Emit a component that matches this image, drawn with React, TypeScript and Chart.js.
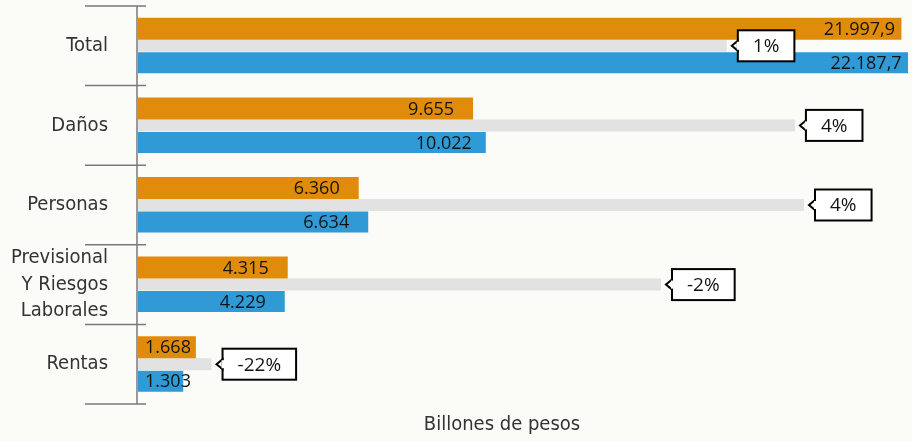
import { useEffect, useRef } from "react";
import { Chart, registerables } from "chart.js";

Chart.register(...registerables);

const categories = ["Total", "Daños", "Personas", "Previsional Y Riesgos Laborales", "Rentas"];
const categoryLines = [["Total"], ["Daños"], ["Personas"], ["Previsional", "Y Riesgos", "Laborales"], ["Rentas"]];
const prevYear = [21997.9, 9655, 6360, 4315, 1668];
const currYear = [22187.7, 10022, 6634, 4229, 1303];
const growth = [0.9, 3.9, 4.3, -2.0, -21.8];
const prevLabels = ["21.997,9", "9.655", "6.360", "4.315", "1.668"];
const currLabels = ["22.187,7", "10.022", "6.634", "4.229", "1.303"];
const growthLabels = ["1%", "4%", "4%", "-2%", "-22%"];
const axisTitle = "Billones de pesos";

const X_MAX = 22245;
const X2_MIN = -25.04;
const X2_MAX = 8.97;

const ORANGE = "#E08C0A";
const BLUE = "#2F9AD6";
const GRAY = "#E2E2E2";
const BG = "#FBFBF7";
const CAT_FONT = '20px "DejaVu Sans Condensed"';
const VAL_FONT = '18px "Open Sans"';
const BOX_FONT = '19px "Open Sans"';

const decorPlugin = {
  id: "decor",
  beforeDraw(chart: any) {
    const { ctx, width, height } = chart;
    ctx.save();
    ctx.fillStyle = BG;
    ctx.fillRect(0, 0, width, height);
    ctx.restore();
  },
  afterDatasetsDraw(chart: any) {
    const { ctx, chartArea } = chart;
    const y = chart.scales.y;
    const x2 = chart.scales.x2;
    const p0 = y.getPixelForValue(0);
    const band = y.getPixelForValue(1) - p0;
    const axisX = chartArea.left - 1;
    ctx.save();
    ctx.strokeStyle = "#7a7a7a";
    ctx.lineWidth = 1.5;
    ctx.beginPath();
    ctx.moveTo(axisX, p0 - band / 2);
    ctx.lineTo(axisX, p0 + band * (categories.length - 0.5));
    for (let i = 0; i <= categories.length; i++) {
      const yy = p0 - band / 2 + i * band;
      ctx.moveTo(axisX - 52, yy);
      ctx.lineTo(axisX + 9, yy);
    }
    ctx.stroke();

    ctx.fillStyle = "#333333";
    ctx.font = CAT_FONT;
    ctx.textAlign = "right";
    ctx.textBaseline = "middle";
    categories.forEach((_, i) => {
      const lines = categoryLines[i];
      const cy = y.getPixelForValue(i);
      const lh = 26.5;
      lines.forEach((ln, k) => {
        ctx.fillText(ln, 108, cy + (k - (lines.length - 1) / 2) * lh);
      });
    });

    ctx.font = VAL_FONT;
    ctx.fillStyle = "#141414";
    ctx.textAlign = "center";
    const drawVals = (dsIndex: number, labels: string[]) => {
      const meta = chart.getDatasetMeta(dsIndex);
      meta.data.forEach((el: any, i: number) => {
        const end = Math.max(el.x, el.base);
        const start = Math.min(el.x, el.base);
        const cx = Math.max(end - 42, start + 30);
        ctx.fillText(labels[i], cx, el.y + 1);
      });
    };
    drawVals(0, prevLabels);
    drawVals(2, currLabels);

    const gmeta = chart.getDatasetMeta(1);
    gmeta.data.forEach((el: any, i: number) => {
      const txt = growthLabels[i];
      const endX = x2.getPixelForValue(growth[i]);
      ctx.font = BOX_FONT;
      const tw = ctx.measureText(txt).width;
      const bw = tw + 30;
      const bh = 31;
      const bx = endX + 11;
      const by = el.y - bh / 2;
      ctx.fillStyle = "#ffffff";
      ctx.strokeStyle = "#000000";
      ctx.lineWidth = 2;
      ctx.fillRect(bx, by, bw, bh);
      ctx.strokeRect(bx, by, bw, bh);
      ctx.beginPath();
      ctx.moveTo(bx, el.y - 5);
      ctx.lineTo(bx - 6, el.y);
      ctx.lineTo(bx, el.y + 5);
      ctx.closePath();
      ctx.fill();
      ctx.stroke();
      ctx.fillStyle = "#ffffff";
      ctx.fillRect(bx - 1, el.y - 4, 2.5, 8);
      ctx.fillStyle = "#141414";
      ctx.textAlign = "center";
      ctx.textBaseline = "middle";
      ctx.fillText(txt, bx + bw / 2, el.y + 1);
    });

    ctx.font = '20px "DejaVu Sans Condensed"';
    ctx.fillStyle = "#333333";
    ctx.textAlign = "center";
    ctx.textBaseline = "middle";
    ctx.fillText(axisTitle, 502, 425);
    ctx.restore();
  },
};

export default function App() {
  const ref = useRef<HTMLCanvasElement | null>(null);
  useEffect(() => {
    if (!ref.current) return;
    const chart = new Chart(ref.current, {
      type: "bar",
      data: {
        labels: categories,
        datasets: [
          {
            label: "Anterior",
            data: prevYear,
            backgroundColor: ORANGE,
            xAxisID: "x",
            barPercentage: 22 / 17,
          },
          {
            label: "Crecimiento",
            data: growth.map((g) => [X2_MIN, g]),
            backgroundColor: GRAY,
            xAxisID: "x2",
            barPercentage: 12 / 17,
          },
          {
            label: "Actual",
            data: currYear,
            backgroundColor: BLUE,
            xAxisID: "x",
            barPercentage: 21 / 17,
          },
        ] as any,
      },
      options: {
        indexAxis: "y",
        animation: false,
        responsive: true,
        maintainAspectRatio: false,
        layout: { padding: { left: 138, right: 2, top: 6, bottom: 37 } },
        datasets: { bar: { categoryPercentage: 51 / 79.6 } },
        plugins: { legend: { display: false }, tooltip: { enabled: false } },
        scales: {
          y: { type: "category", display: false, offset: true },
          x: { type: "linear", display: false, min: 0, max: X_MAX },
          x2: { type: "linear", display: false, min: X2_MIN, max: X2_MAX },
        },
      } as any,
      plugins: [decorPlugin],
    });
    return () => chart.destroy();
  }, []);
  return (
    <div style={{ position: "fixed", left: 0, top: 0, width: 912, height: 441, background: BG }}>
      <canvas ref={ref} />
    </div>
  );
}
